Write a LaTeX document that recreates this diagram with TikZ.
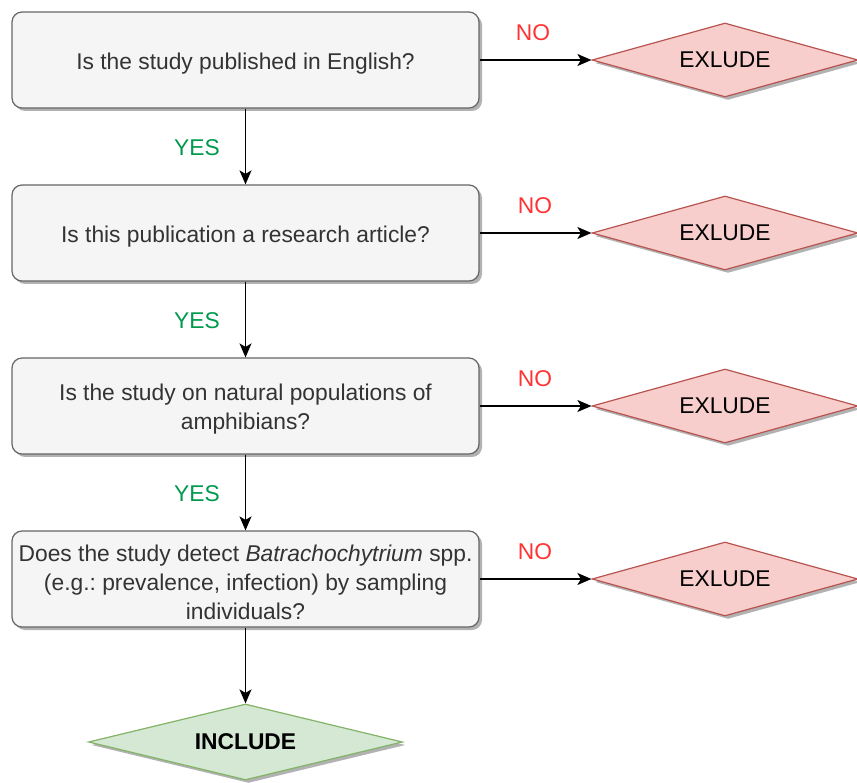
\documentclass[tikz,border=0pt]{standalone}
\usepackage{fontspec}
\setmainfont{Liberation Sans}
\usetikzlibrary{shapes.geometric,shadows,arrows.meta}
\frenchspacing
\definecolor{boxfill}{HTML}{F5F5F5}
\definecolor{boxline}{HTML}{666666}
\definecolor{boxtext}{HTML}{333333}
\definecolor{exfill}{HTML}{F8CECC}
\definecolor{exline}{HTML}{B85450}
\definecolor{infill}{HTML}{D5E8D4}
\definecolor{inline}{HTML}{82B366}
\definecolor{nored}{HTML}{FF3333}
\definecolor{yesgreen}{HTML}{00994D}
\tikzset{
  txt/.style={font=\fontsize{22.8}{29}\selectfont},
  shade/.style={drop shadow={shadow xshift=3pt,shadow yshift=-3pt,opacity=0.3,fill=black}},
  question/.style={shade, rectangle, rounded corners=10pt, draw=boxline, line width=1.2pt,
    fill=boxfill, minimum width=467pt, minimum height=96pt, inner sep=0pt},
  qtext/.style={txt, text=boxtext, align=center, inner sep=0pt},
  exclude/.style={txt, shade, diamond, draw=exline, line width=1.2pt, fill=exfill,
    minimum width=266pt, minimum height=74pt, inner sep=0pt, shape aspect=3.6},
  include/.style={txt, shade, diamond, draw=inline, line width=1.2pt, fill=infill,
    minimum width=314pt, minimum height=76pt, inner sep=0pt, shape aspect=4,
    font=\fontsize{22.8}{29}\selectfont\bfseries},
  link/.style={line width=1.4pt, -{Stealth[length=14pt,width=12pt,inset=3.5pt]}},
  nolabel/.style={txt, text=nored},
  yeslabel/.style={txt, text=yesgreen},
}
\begin{document}
\begin{tikzpicture}[x=1pt,y=-1pt]
\useasboundingbox (0,0) rectangle (857,783);

% question boxes
\node[question] (q1) at (245.5,60) {};
\node[question] (q2) at (245.5,233) {};
\node[question] (q3) at (245.5,406) {};
\node[question] (q4) at (245.5,579) {};

% question texts, set a little below the box centres
\node[qtext] (t1) at ([yshift=-3.5pt]q1.center) {Is the study published in English?};
\node[qtext] (t2) at ([yshift=-3.5pt]q2.center) {Is this publication a research article?};
\node[qtext] (t3) at ([yshift=-3.5pt]q3.center) {Is the study on natural populations of\\amphibians?};
\node[qtext] (t4) at ([yshift=-3.5pt]q4.center) {Does the study detect \textit{Batrachochytrium} spp.\\(e.g.: prevalence, infection) by sampling\\individuals?};

% outcomes
\node[exclude] (e1) at (725,60) {EXLUDE};
\node[exclude] (e2) at (725,233) {EXLUDE};
\node[exclude] (e3) at (725,406) {EXLUDE};
\node[exclude] (e4) at (725,579) {EXLUDE};
\node[include] (inc) at (245.5,742) {INCLUDE};

% connectors
\draw[link] (q1.east) -- (e1.west);
\draw[link] (q2.east) -- (e2.west);
\draw[link] (q3.east) -- (e3.west);
\draw[link] (q4.east) -- (e4.west);
\draw[link] (q1.south) -- (q2.north);
\draw[link] (q2.south) -- (q3.north);
\draw[link] (q3.south) -- (q4.north);
\draw[link] (q4.south) -- (inc.north);

% branch labels
\node[nolabel] (n1) at (533,33) {NO};
\node[nolabel] (n2) at (535,206) {NO};
\node[nolabel] (n3) at (535,379) {NO};
\node[nolabel] (n4) at (535,552) {NO};
\node[yeslabel] (y1) at (197,148) {YES};
\node[yeslabel] (y2) at (197,321) {YES};
\node[yeslabel] (y3) at (197,494) {YES};
\end{tikzpicture}
\end{document}
